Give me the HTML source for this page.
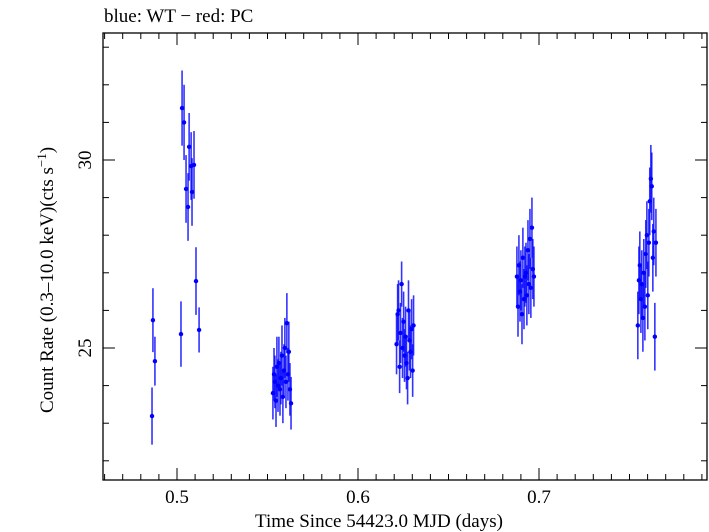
<!DOCTYPE html>
<html><head><meta charset="utf-8"><style>
body{margin:0;background:#fff;}
svg{display:block;font-family:"Liberation Serif",serif;}
</style></head><body>
<svg id="c" width="709" height="532"></svg>
<script>
const times=[0.4862,0.4867,0.4878,0.5022,0.5028,0.5039,0.5050,0.5061,0.5067,0.5078,0.5083,0.5094,0.5105,0.5122,
0.5530,0.5536,0.5541,0.5547,0.5552,0.5558,0.5563,0.5569,0.5574,0.5580,0.5585,0.5591,0.5596,0.5602,0.5607,0.5613,0.5618,0.5624,0.5630,
0.6213,0.6219,0.6224,0.6230,0.6235,0.6241,0.6246,0.6252,0.6257,0.6263,0.6268,0.6274,0.6279,0.6285,0.6290,0.6296,0.6302,0.6307,
0.6878,0.6884,0.6889,0.6895,0.6900,0.6906,0.6911,0.6917,0.6922,0.6928,0.6933,0.6939,0.6944,0.6950,0.6955,0.6961,0.6966,0.6972,
0.7546,0.7552,0.7557,0.7563,0.7568,0.7574,0.7579,0.7585,0.7590,0.7596,0.7601,0.7607,0.7612,0.7618,0.7623,0.7629,0.7634,0.7640,0.7646];
const rates=[23.19,25.74,24.65,25.37,31.38,31.0,29.23,28.75,30.35,29.84,29.15,29.87,26.78,25.48,
23.8,24.3,24.1,23.6,24.5,24.0,24.6,23.9,24.2,24.8,23.7,24.4,25.0,24.1,25.66,24.3,24.9,23.9,23.53,
25.1,25.9,26.0,24.5,25.4,26.7,25.0,25.7,24.8,25.3,24.6,24.2,26.0,25.2,24.9,25.5,24.4,25.6,
26.9,26.1,27.2,26.5,26.8,25.9,27.4,26.3,26.9,27.0,26.4,27.6,26.7,27.9,26.6,28.2,27.1,26.9,
25.6,26.8,27.2,26.3,26.7,25.8,27.0,26.1,27.5,28.0,26.4,27.8,28.9,29.5,29.3,27.4,28.1,25.3,27.8];
const errs=[0.76,0.85,0.65,0.87,1.0,1.0,0.9,0.9,0.9,0.9,0.9,0.9,0.9,0.6,
0.7,0.7,0.7,0.7,0.8,0.7,0.7,0.7,0.7,0.8,0.7,0.7,0.8,0.7,0.8,0.7,0.8,0.7,0.7,
0.8,0.8,0.8,0.7,0.8,0.6,0.8,0.8,0.7,0.8,0.7,0.7,0.8,0.8,0.7,0.8,0.7,0.8,
0.8,0.8,0.8,0.8,0.8,0.8,0.8,0.8,0.8,0.8,0.8,0.8,0.8,0.8,0.8,0.8,0.8,0.8,
0.9,0.9,0.9,0.9,0.9,0.9,0.9,0.9,0.9,0.9,0.9,0.9,0.9,0.9,0.9,0.9,0.9,0.9,0.9];
const xTicks=[0.5,0.6,0.7];
const yTicks=[25,30];

const L=103,R=707,T=33,B=480;
const X=v=>177+(v-0.5)*1810;
const Y=v=>348-(v-25)*37.6;
const NS="http://www.w3.org/2000/svg";
const svg=document.getElementById('c');
function mk(t,a){const e=document.createElementNS(NS,t);for(const k in a)e.setAttribute(k,a[k]);svg.appendChild(e);return e;}
const fr=mk('rect',{x:L,y:T,width:R-L,height:B-T,fill:'none',stroke:'#000','stroke-width':1.3});


for(let i=46;i<=79;i++){const v=i/100,x=X(v);if(x<L||x>R)continue;const big=i%10==0;const len=big?12:6;
 const a=mk('line',{x1:x,x2:x,y1:B,y2:B-len,stroke:'#000','stroke-width':1});
 
 
 const b=mk('line',{x1:x,x2:x,y1:T,y2:T+len,stroke:'#000','stroke-width':1});
 
 }
for(let v=22;v<=33;v++){const y=Y(v);const big=v%5==0;const len=big?12:6;
 const a=mk('line',{x1:L,x2:L+len,y1:y,y2:y,stroke:'#000','stroke-width':1});
 
 
 const b=mk('line',{x1:R,x2:R-len,y1:y,y2:y,stroke:'#000','stroke-width':1});
 
 }
xTicks.forEach(v=>{const t=mk('text',{x:X(v),y:503,'text-anchor':'middle','font-size':19});t.textContent=String(v);
 
 });
yTicks.forEach(v=>{const t=mk('text',{x:0,y:0,'text-anchor':'middle','font-size':19,transform:`translate(91,${Y(v)}) rotate(-90)`});t.textContent=String(v);
 
 });
const xt=mk('text',{x:379,y:527,'text-anchor':'middle','font-size':19});xt.textContent='Time Since 54423.0 MJD (days)';


const yt=mk('text',{x:0,y:0,'text-anchor':'middle','font-size':19,transform:'translate(53,280) rotate(-90)'});
yt.innerHTML='Count Rate (0.3\u201310.0 keV)(cts s<tspan font-size="13" dy="-7">\u22121</tspan><tspan dy="7">)</tspan>';


const tt=mk('text',{x:104,y:22,'font-size':19});tt.textContent='blue: WT \u2212 red: PC';


times.forEach((t,i)=>{const x=X(t);
 const l=mk('line',{x1:x,x2:x,y1:Y(rates[i]-errs[i]),y2:Y(rates[i]+errs[i]),stroke:'#0000ff','stroke-width':1.6,'stroke-opacity':0.8});
 
 
 const c=mk('circle',{cx:x,cy:Y(rates[i]),r:2.2,fill:'#0000ff'});
 
 });
</script>
</body></html>
